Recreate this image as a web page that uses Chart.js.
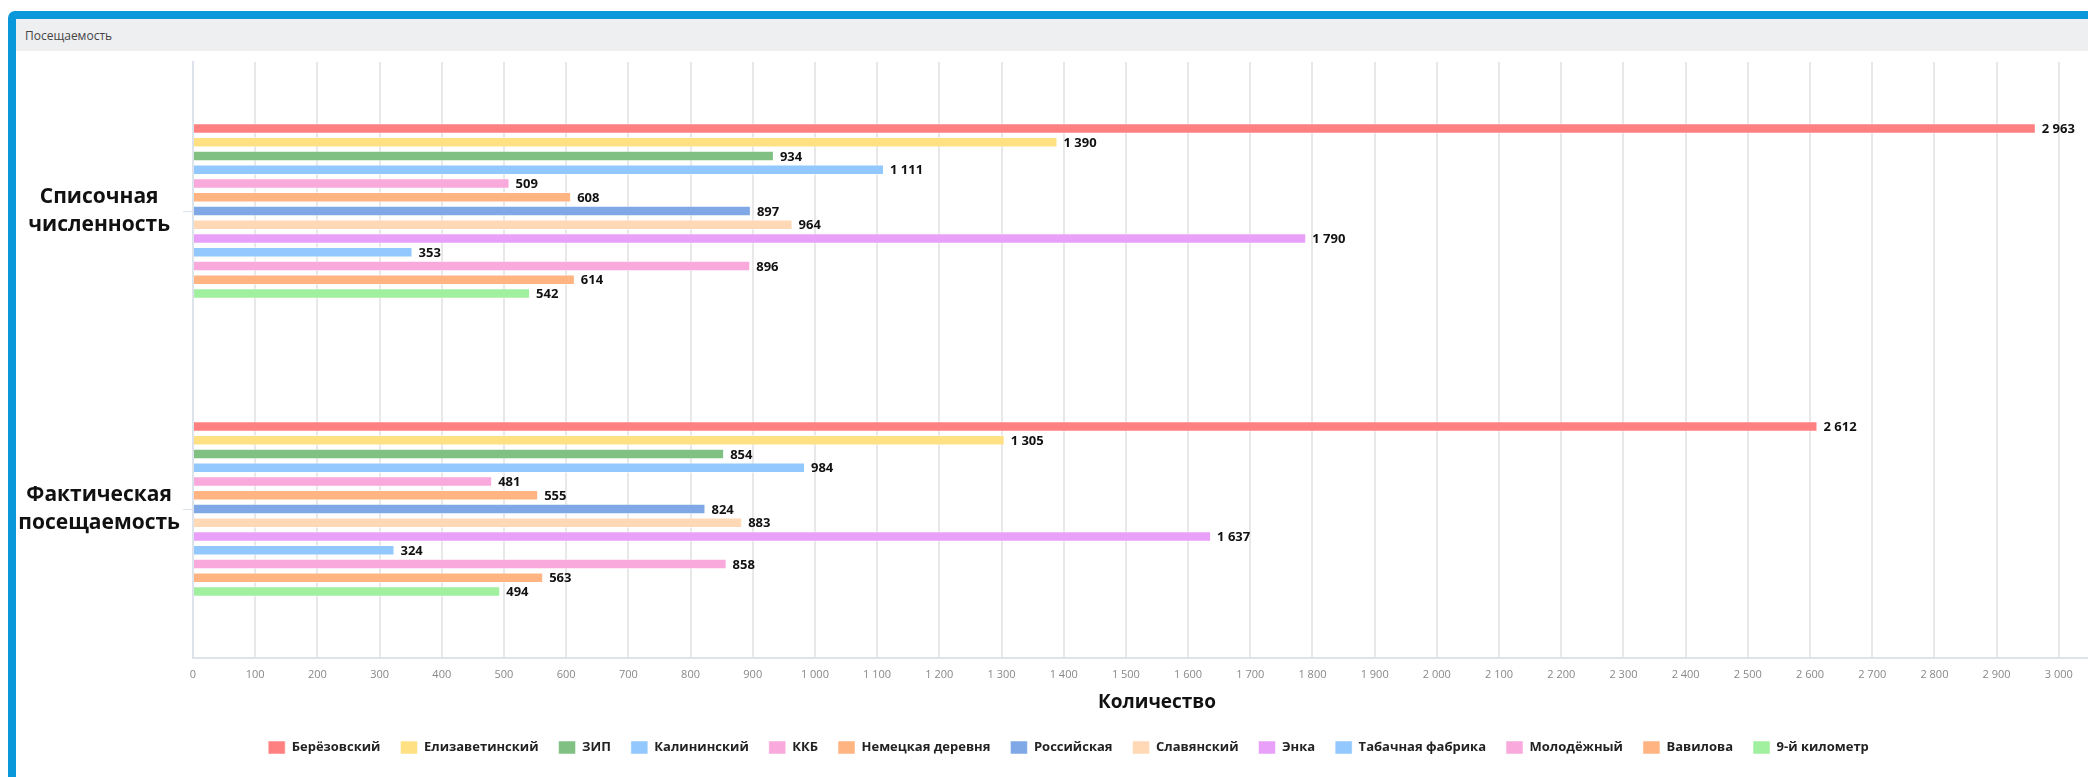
<!DOCTYPE html>
<html>
<head>
<meta charset="utf-8">
<script src="https://cdn.jsdelivr.net/npm/chart.js@4.4.1/dist/chart.umd.min.js"></script>
<style>
  html, body { margin: 0; padding: 0; background: #fff; overflow: hidden; width: 2088px; height: 777px; }
  #frame { position: absolute; left: 8px; top: 11px; width: 2160px; height: 762px; border: 8px solid #0a98da; border-radius: 7px; background: #fff; }
  #head { position: absolute; left: 0; top: 0; right: 0; height: 32px; background: #eeeff1; }
  #head span { position: absolute; left: 9px; top: 8px; font: 12px "Open Sans", sans-serif; color: #444; }
  #wrap { position: absolute; left: 16px; top: 51px; width: 2120px; height: 722px; }
</style>
</head>
<body>
<div id="frame"><div id="head"><span>Посещаемость</span></div></div>
<div id="wrap"><canvas id="c"></canvas></div>
<script>
const FONT = '"Open Sans", sans-serif';
const categories = [["Списочная", "численность"], ["Фактическая", "посещаемость"]];
const seriesNames = ["Берёзовский", "Елизаветинский", "ЗИП", "Калининский", "ККБ", "Немецкая деревня", "Российская", "Славянский", "Энка", "Табачная фабрика", "Молодёжный", "Вавилова", "9-й километр"];
const listValues = [2963, 1390, 934, 1111, 509, 608, 897, 964, 1790, 353, 896, 614, 542];
const actualValues = [2612, 1305, 854, 984, 481, 555, 824, 883, 1637, 324, 858, 563, 494];
const seriesColors = ["#ff8080", "#ffe183", "#80c082", "#92c8fd", "#f9a9dc", "#ffb482", "#80a8e6", "#ffd9b5", "#e8a0f8", "#92c8fd", "#f9a9dc", "#ffb482", "#a0f0a0"];
const xMin = 0, xMax = 3100, xStep = 100;
const axisTitle = "Количество";

function fmt(v) { return String(v).replace(/\B(?=(\d{3})+(?!\d))/g, ' '); }

const datasets = seriesNames.map((name, i) => ({
  label: name,
  data: [listValues[i], actualValues[i]],
  backgroundColor: seriesColors[i],
  borderColor: 'rgba(255,255,255,0.5)',
  borderWidth: 1,
  categoryPercentage: 0.6,
  barPercentage: 0.77
}));

const valueLabels = {
  id: 'valueLabels',
  afterDatasetsDraw(chart) {
    const ctx = chart.ctx;
    ctx.save();
    ctx.font = 'bold 13px ' + FONT;
    ctx.fillStyle = '#111';
    ctx.textAlign = 'left';
    ctx.textBaseline = 'middle';
    chart.data.datasets.forEach((ds, i) => {
      const meta = chart.getDatasetMeta(i);
      meta.data.forEach((el, j) => {
        ctx.fillText(fmt(ds.data[j]), el.x + 6, el.y + 1);
      });
    });
    ctx.restore();
  }
};

new Chart(document.getElementById('c'), {
  type: 'bar',
  data: { labels: categories, datasets },
  plugins: [valueLabels],
  options: {
    indexAxis: 'y',
    responsive: true,
    maintainAspectRatio: false,
    animation: false,
    layout: { padding: { top: 11, left: 0, right: 15, bottom: 9 } },
    scales: {
      x: {
        min: xMin, max: xMax,
        afterFit(scale) { scale.paddingLeft = 0; scale.paddingRight = 0; },
        ticks: { stepSize: xStep, padding: 10, color: '#888', font: { family: FONT, size: 11 }, callback: v => fmt(v) },
        grid: { color: '#e8e8e8', lineWidth: 2, drawTicks: false },
        border: { color: '#dce3ea', width: 2 },
        title: { display: true, text: axisTitle, color: '#111', font: { family: FONT, size: 19, weight: 'bold' }, padding: { top: 0, bottom: 7 } }
      },
      y: {
        afterFit(scale) { scale.width = 177; scale.paddingTop = 0; scale.paddingBottom = 0; },
        ticks: { crossAlign: 'center', padding: 3, color: '#111', font: { family: FONT, size: 21, weight: 'bold', lineHeight: 1.35 } },
        grid: { drawOnChartArea: false, offset: false, tickLength: 10, color: '#dce3ea' },
        border: { color: '#dce3ea', width: 2 }
      }
    },
    plugins: {
      legend: {
        position: 'bottom',
        labels: { boxWidth: 17, boxHeight: 13, padding: 20, color: '#222', font: { family: FONT, size: 13, weight: 'bold' } }
      },
      tooltip: { enabled: false }
    }
  }
});
</script>
</body>
</html>
